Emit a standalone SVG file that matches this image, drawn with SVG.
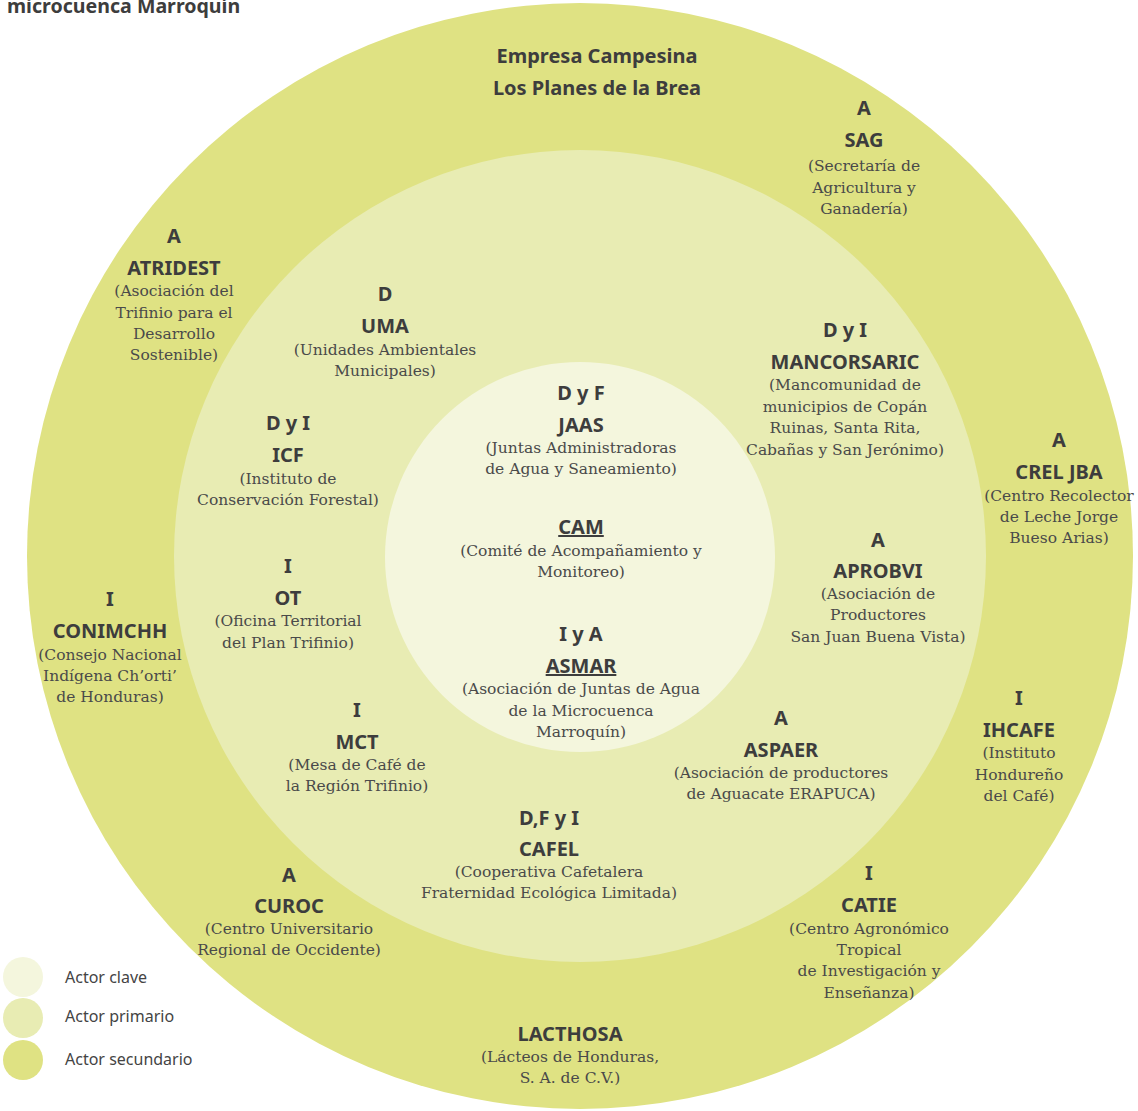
<svg xmlns="http://www.w3.org/2000/svg" width="1138" height="1111" viewBox="0 0 1138 1111">
<style>
.h{font-family:"Noto Sans","Open Sans",sans-serif;font-weight:700;font-size:20px;fill:#3d3d3d;text-anchor:middle}
.d{font-family:"DejaVu Serif","Liberation Serif",serif;font-size:15.5px;fill:#4a4a4a;text-anchor:middle}
.u{text-decoration:underline}
.lg{font-family:"Noto Sans","Open Sans",sans-serif;font-size:16px;fill:#444}
.c1{fill:#f4f6dd}.c2{fill:#e8ecb3}.c3{fill:#dfe283}
</style>
<rect width="1138" height="1111" fill="#ffffff"/>
<text x="7" y="13" style="font-family:'Noto Sans','Open Sans',sans-serif;font-weight:700;font-size:19.6px;fill:#3d3d3d">microcuenca Marroquín</text>
<g id="rings">
<circle class="c3" cx="580" cy="556" r="553"/>
<circle class="c2" cx="580" cy="556" r="406"/>
<circle class="c1" cx="580" cy="557" r="195"/>
</g>
<g id="connectors"></g>
<g id="empresa"><text class="h" x="597" y="63">Empresa Campesina</text><text class="h" x="597" y="95">Los Planes de la Brea</text></g>
<g id="sag"><text class="h" x="864" y="115">A</text><text class="h" x="864" y="147">SAG</text><text class="d" x="864" y="171">(Secretaría de</text><text class="d" x="864" y="193">Agricultura y</text><text class="d" x="864" y="214">Ganadería)</text></g>
<g id="atridest"><text class="h" x="174" y="243">A</text><text class="h" x="174" y="275">ATRIDEST</text><text class="d" x="174" y="296">(Asociación del</text><text class="d" x="174" y="318">Trifinio para el</text><text class="d" x="174" y="339">Desarrollo</text><text class="d" x="174" y="360">Sostenible)</text></g>
<g id="uma"><text class="h" x="385" y="301">D</text><text class="h" x="385" y="333">UMA</text><text class="d" x="385" y="355">(Unidades Ambientales</text><text class="d" x="385" y="376">Municipales)</text></g>
<g id="mancorsaric"><text class="h" x="845" y="337">D y I</text><text class="h" x="845" y="369">MANCORSARIC</text><text class="d" x="845" y="390">(Mancomunidad de</text><text class="d" x="845" y="412">municipios de Copán</text><text class="d" x="845" y="433">Ruinas, Santa Rita,</text><text class="d" x="845" y="455">Cabañas y San Jerónimo)</text></g>
<g id="jaas"><text class="h" x="581" y="400">D y F</text><text class="h" x="581" y="432">JAAS</text><text class="d" x="581" y="453">(Juntas Administradoras</text><text class="d" x="581" y="474">de Agua y Saneamiento)</text></g>
<g id="icf"><text class="h" x="288" y="430">D y I</text><text class="h" x="288" y="462">ICF</text><text class="d" x="288" y="484">(Instituto de</text><text class="d" x="288" y="505">Conservación Forestal)</text></g>
<g id="creljba"><text class="h" x="1059" y="447">A</text><text class="h" x="1059" y="479">CREL JBA</text><text class="d" x="1059" y="501">(Centro Recolector</text><text class="d" x="1059" y="522">de Leche Jorge</text><text class="d" x="1059" y="543">Bueso Arias)</text></g>
<g id="cam"><text class="h u" x="581" y="534">CAM</text><text class="d" x="581" y="556">(Comité de Acompañamiento y</text><text class="d" x="581" y="577">Monitoreo)</text></g>
<g id="aprobvi"><text class="h" x="878" y="547">A</text><text class="h" x="878" y="578">APROBVI</text><text class="d" x="878" y="599">(Asociación de</text><text class="d" x="878" y="620">Productores</text><text class="d" x="878" y="642">San Juan Buena Vista)</text></g>
<g id="ot"><text class="h" x="288" y="573">I</text><text class="h" x="288" y="605">OT</text><text class="d" x="288" y="626">(Oficina Territorial</text><text class="d" x="288" y="648">del Plan Trifinio)</text></g>
<g id="conimchh"><text class="h" x="110" y="606">I</text><text class="h" x="110" y="638">CONIMCHH</text><text class="d" x="110" y="660">(Consejo Nacional</text><text class="d" x="110" y="681">Indígena Ch’orti’</text><text class="d" x="110" y="702">de Honduras)</text></g>
<g id="asmar"><text class="h" x="581" y="641">I y A</text><text class="h u" x="581" y="673">ASMAR</text><text class="d" x="581" y="694">(Asociación de Juntas de Agua</text><text class="d" x="581" y="716">de la Microcuenca</text><text class="d" x="581" y="737">Marroquín)</text></g>
<g id="ihcafe"><text class="h" x="1019" y="705">I</text><text class="h" x="1019" y="737">IHCAFE</text><text class="d" x="1019" y="758">(Instituto</text><text class="d" x="1019" y="780">Hondureño</text><text class="d" x="1019" y="801">del Café)</text></g>
<g id="mct"><text class="h" x="357" y="717">I</text><text class="h" x="357" y="749">MCT</text><text class="d" x="357" y="770">(Mesa de Café de</text><text class="d" x="357" y="791">la Región Trifinio)</text></g>
<g id="aspaer"><text class="h" x="781" y="725">A</text><text class="h" x="781" y="757">ASPAER</text><text class="d" x="781" y="778">(Asociación de productores</text><text class="d" x="781" y="799">de Aguacate ERAPUCA)</text></g>
<g id="cafel"><text class="h" x="549" y="825">D,F y I</text><text class="h" x="549" y="856">CAFEL</text><text class="d" x="549" y="877">(Cooperativa Cafetalera</text><text class="d" x="549" y="898">Fraternidad Ecológica Limitada)</text></g>
<g id="curoc"><text class="h" x="289" y="882">A</text><text class="h" x="289" y="913">CUROC</text><text class="d" x="289" y="934">(Centro Universitario</text><text class="d" x="289" y="955">Regional de Occidente)</text></g>
<g id="catie"><text class="h" x="869" y="880">I</text><text class="h" x="869" y="912">CATIE</text><text class="d" x="869" y="934">(Centro Agronómico</text><text class="d" x="869" y="955">Tropical</text><text class="d" x="869" y="976">de Investigación y</text><text class="d" x="869" y="998">Enseñanza)</text></g>
<g id="lacthosa"><text class="h" x="570" y="1041">LACTHOSA</text><text class="d" x="570" y="1062">(Lácteos de Honduras,</text><text class="d" x="570" y="1083">S. A. de C.V.)</text></g>
<g id="legend">
<circle class="c1" cx="23" cy="977" r="20"/><text class="lg" x="65" y="983">Actor clave</text>
<circle class="c2" cx="23" cy="1018" r="20"/><text class="lg" x="65" y="1022">Actor primario</text>
<circle class="c3" cx="23" cy="1060" r="20"/><text class="lg" x="65" y="1065">Actor secundario</text>
</g>
</svg>
